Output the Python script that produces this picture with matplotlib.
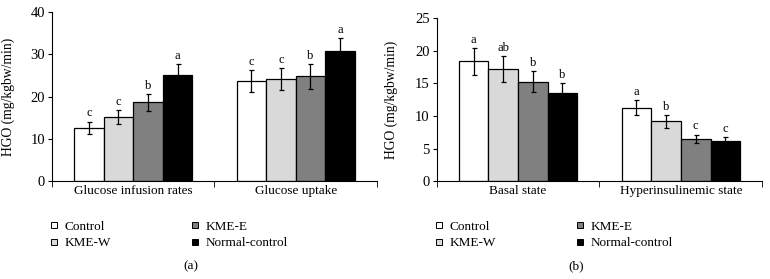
import numpy as np
import matplotlib.pyplot as plt
from matplotlib.lines import Line2D

plt.rcParams['font.family'] = ['Liberation Serif', 'DejaVu Serif']
plt.rcParams['font.size'] = 9.5

groups = ['Control', 'KME-W', 'KME-E', 'Normal-control']
colors = ['white', '#d9d9d9', '#808080', 'black']

cats_a = ['Glucose infusion rates', 'Glucose uptake']
vals_a = [[12.6, 23.7], [15.1, 24.1], [18.6, 24.8], [25.0, 30.8]]
err_a = [[1.5, 2.6], [1.7, 2.6], [1.9, 2.9], [2.7, 3.0]]
let_a = [['c', 'c'], ['c', 'c'], ['b', 'b'], ['a', 'a']]

cats_b = ['Basal state', 'Hyperinsulinemic state']
vals_b = [[18.4, 11.3], [17.2, 9.2], [15.3, 6.5], [13.6, 6.1]]
err_b = [[2.05, 1.15], [2.0, 1.0], [1.6, 0.65], [1.45, 0.6]]
let_b = [['a', 'a'], ['ab', 'b'], ['b', 'c'], ['b', 'c']]

fig = plt.figure(figsize=(7.7, 2.79), dpi=100)
ax1 = fig.add_axes([0.0675, 0.351, 0.422, 0.6057])
ax2 = fig.add_axes([0.567, 0.351, 0.423, 0.583])

w = 0.182


def draw(ax, cats, vals, errs, lets, ymax, step, tag, labx, legx, tagx):
    x = np.arange(len(cats))
    for i in range(len(groups)):
        pos = x + (i - 1.5) * w
        ax.bar(pos, vals[i], w, color=colors[i], edgecolor='black', linewidth=0.9,
               yerr=errs[i], capsize=1.8,
               error_kw=dict(ecolor='black', elinewidth=0.9, capthick=0.9))
        for j in range(len(cats)):
            ax.annotate(lets[i][j], (pos[j], vals[i][j] + errs[i][j]),
                        xytext=(0, 1.5), textcoords='offset points',
                        ha='center', va='bottom', fontsize=9)
    ax.set_xlim(-0.5, len(cats) - 0.5)
    ax.set_ylim(0, ymax)
    ax.set_yticks(np.arange(0, ymax + 0.1, step))
    ax.set_xticks(x)
    ax.set_xticklabels(cats, fontsize=9.5)
    ax.set_xticks(np.arange(-0.5, len(cats)), minor=True)
    ax.tick_params(axis='x', which='major', length=0, pad=3)
    ax.tick_params(axis='x', which='minor', length=4, direction='out')
    ax.tick_params(axis='y', length=3, direction='out', pad=2, labelsize=10.5)
    for s in ['top', 'right']:
        ax.spines[s].set_visible(False)
    ax.set_ylabel('HGO (mg/kgbw/min)', fontsize=9.8)
    ax.yaxis.set_label_coords(labx, 0.5)
    handles = [Line2D([], [], marker='s', linestyle='none', markersize=5,
                      markerfacecolor=c, markeredgecolor='black', markeredgewidth=0.7)
               for c in colors]
    fig.legend(handles, groups, ncol=2, frameon=False, loc='center left',
               bbox_to_anchor=(legx, 0.158), handletextpad=0.3, handlelength=1.0,
               columnspacing=5.9, labelspacing=0.3, borderaxespad=0, borderpad=0)
    fig.text(tagx, 0.047, tag, ha='center', va='center')


draw(ax1, cats_a, vals_a, err_a, let_a, 40, 10, '(a)', -0.114, 0.0616, 0.248)
draw(ax2, cats_b, vals_b, err_b, let_b, 25, 5, '(b)', -0.119, 0.5616, 0.748)

fig.savefig('out.png', dpi=100)
